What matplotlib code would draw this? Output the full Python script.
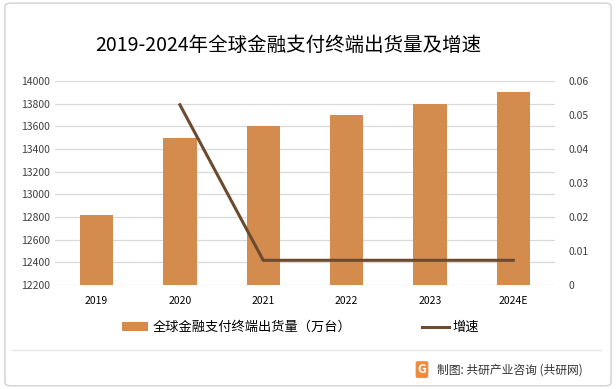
import matplotlib
matplotlib.use("Agg")
import matplotlib.pyplot as plt
from matplotlib.patches import FancyBboxPatch, Patch
from matplotlib.lines import Line2D

plt.rcParams["font.family"] = ["Noto Sans CJK SC", "DejaVu Sans"]

# ── Data ──────────────────────────────────────────────────────────────────────
years = ["2019", "2020", "2021", "2022", "2023", "2024E"]
shipments = [12820, 13500, 13600, 13700, 13800, 13900]      # 万台
growth_years = ["2020", "2021", "2022", "2023", "2024E"]
growth = [0.053, 0.0073, 0.0073, 0.0073, 0.0073]

BAR = "#D38C4E"
LINE = "#6B4A2E"
GRID = "#D9D9D9"
TXT = "#404040"

fig = plt.figure(figsize=(6.16, 3.89), dpi=100)
fig.patch.set_facecolor("white")

# outer frame
fig.add_artist(FancyBboxPatch((0.008, 0.008), 0.984, 0.984,
                              boxstyle="round,pad=0,rounding_size=0.01",
                              transform=fig.transFigure, facecolor="none",
                              edgecolor="#D0D0D0", linewidth=1.0))

ax = fig.add_axes([0.089, 0.267, 0.812, 0.525])
x = list(range(len(years)))
ax.bar(x, shipments, width=0.4, color=BAR, zorder=3)
ax.set_ylim(12200, 14000)
ax.set_yticks(range(12200, 14001, 200))
ax.set_xlim(-0.5, len(years) - 0.5)
ax.set_xticks(x)
ax.set_xticklabels(years)
ax.grid(axis="y", color=GRID, linewidth=0.9, zorder=0)
for s in ax.spines.values():
    s.set_visible(False)
ax.tick_params(axis="both", length=0, labelsize=7.5, colors=TXT)
ax.tick_params(axis="x", pad=8, labelcolor="black")

ax2 = ax.twinx()
gx = [years.index(y) for y in growth_years]
ax2.plot(gx, growth, color=LINE, linewidth=2.2, zorder=4)
ax2.set_ylim(0, 0.06)
ax2.set_yticks([0, 0.01, 0.02, 0.03, 0.04, 0.05, 0.06])
ax2.set_yticklabels(["0", "0.01", "0.02", "0.03", "0.04", "0.05", "0.06"])
for s in ax2.spines.values():
    s.set_visible(False)
ax2.tick_params(axis="y", length=0, labelsize=7.5, colors=TXT, pad=10)

fig.text(0.468, 0.882, "2019-2024年全球金融支付终端出货量及增速",
         ha="center", va="center", fontsize=14, color="black")

handles = [Patch(facecolor=BAR, label="全球金融支付终端出货量（万台）"),
           Line2D([0], [0], color=LINE, linewidth=2.2, label="增速")]
fig.legend(handles=handles, loc="center", bbox_to_anchor=(0.488, 0.158),
           ncol=2, frameon=False, fontsize=9.5, columnspacing=5.4,
           handlelength=2.0, handleheight=0.6, handletextpad=0.3)

# footer
fig.add_artist(Line2D([0.02, 0.975], [0.1, 0.1], transform=fig.transFigure,
                      color="#E6E6E6", linewidth=1))
fig.text(0.685, 0.05, "G", ha="center", va="center", fontsize=9,
         color="white", fontweight="bold",
         bbox=dict(boxstyle="round,pad=0.15", facecolor="#F08A3C",
                   edgecolor="none"))
fig.text(0.71, 0.05, "制图: 共研产业咨询 (共研网)", ha="left", va="center",
         fontsize=8.5, color="#333333")

fig.savefig("out.png", dpi=100, facecolor="white")
